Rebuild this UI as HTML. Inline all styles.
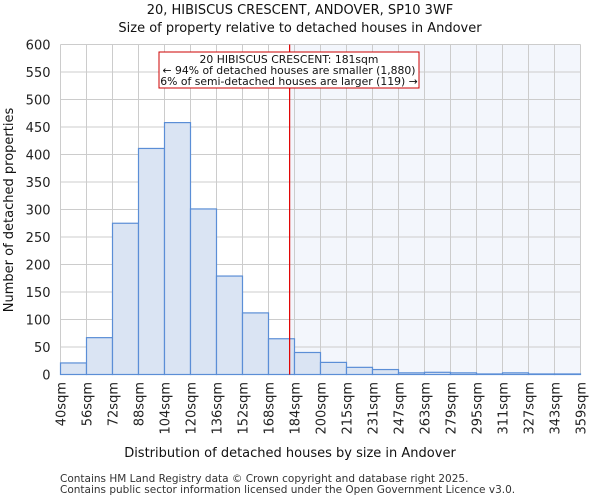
<!DOCTYPE html>
<html><head><meta charset="utf-8"><style>
body{margin:0;background:#fff;font-family:"DejaVu Sans","Liberation Sans",sans-serif}
</style></head><body>
<svg id="c" width="600" height="500" xmlns="http://www.w3.org/2000/svg" font-family="DejaVu Sans, Liberation Sans, sans-serif"></svg>
<script>
const categories=["40sqm","56sqm","72sqm","88sqm","104sqm","120sqm","136sqm","152sqm","168sqm","184sqm","200sqm","215sqm","231sqm","247sqm","263sqm","279sqm","295sqm","311sqm","327sqm","343sqm","359sqm"];
const values=[21,67,275,411,458,301,179,112,65,40,22,13,9,3,4,3,1,3,1,1];
const yTicks=[0,50,100,150,200,250,300,350,400,450,500,550,600];
const marker=181;
const edgeStart=40, edgeStep=16;
const X0=60.5,X1=580.5,Y0=374.5,Y1=44.5;
const nb=values.length;
const x=v=>X0+(v-edgeStart)/(edgeStep*nb)*(X1-X0);
const xi=i=>X0+i*(X1-X0)/nb;
const y=v=>Y0-v/600*(Y0-Y1);
const svg=document.getElementById('c');
function add(tag,attrs,text){const e=document.createElementNS('http://www.w3.org/2000/svg',tag);for(const k in attrs)e.setAttribute(k,attrs[k]);if(text!==undefined)e.textContent=text;svg.appendChild(e);return e;}
let e;
e=add('rect',{x:x(marker),y:Y1,width:X1-x(marker),height:Y0-Y1,fill:'#f3f6fc'});


for(let i=0;i<=nb;i++){e=add('line',{x1:xi(i),x2:xi(i),y1:Y1,y2:Y0,stroke:'#cccccc'});

}
yTicks.forEach(t=>{e=add('line',{x1:X0,x2:X1,y1:y(t),y2:y(t),stroke:'#cccccc'});


e=add('text',{x:X0-10,y:y(t)+5,'text-anchor':'end','font-size':13,fill:'#222'},t);

});
values.forEach((v,i)=>{e=add('rect',{x:xi(i),y:y(v),width:xi(i+1)-xi(i),height:Y0-y(v),fill:'#dae4f3',stroke:'#5b8ed6','stroke-width':1.2});

});
categories.forEach((c,i)=>{e=add('text',{transform:`translate(${xi(i)+5},382) rotate(-90)`,'text-anchor':'end','font-size':13,fill:'#222'},c);

});
e=add('line',{x1:x(marker),x2:x(marker),y1:Y1,y2:Y0,stroke:'#e00000','stroke-width':1.2});


e=add('rect',{x:159,y:52,width:260,height:36,fill:'#fff',stroke:'#cc0000'});


[["20 HIBISCUS CRESCENT: 181sqm",63],["← 94% of detached houses are smaller (1,880)",74],["6% of semi-detached houses are larger (119) →",85]].forEach(a=>{e=add('text',{x:289,y:a[1],'text-anchor':'middle','font-size':10.8,fill:'#111'},a[0]);

});
e=add('text',{x:300,y:14,'text-anchor':'middle','font-size':13,fill:'#111'},'20, HIBISCUS CRESCENT, ANDOVER, SP10 3WF');


e=add('text',{x:300,y:32,'text-anchor':'middle','font-size':13,fill:'#111'},'Size of property relative to detached houses in Andover');


e=add('text',{x:290,y:457,'text-anchor':'middle','font-size':13,fill:'#111'},'Distribution of detached houses by size in Andover');


e=add('text',{transform:'translate(13,210) rotate(-90)','text-anchor':'middle','font-size':13,fill:'#111'},'Number of detached properties');


e=add('text',{x:60,y:482,'font-size':10.5,fill:'#333'},'Contains HM Land Registry data © Crown copyright and database right 2025.');


e=add('text',{x:60,y:493,'font-size':10.5,fill:'#333'},'Contains public sector information licensed under the Open Government Licence v3.0.');


</script>
</body></html>
